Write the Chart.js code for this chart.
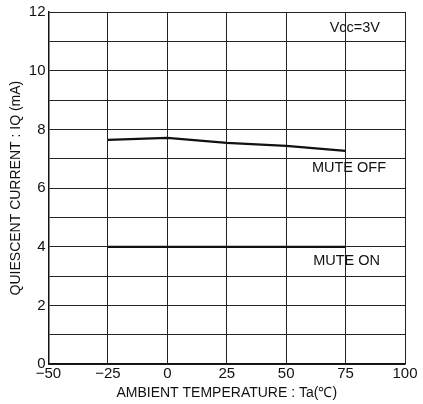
<!DOCTYPE html>
<html>
<head>
<meta charset="utf-8">
<script src="https://cdn.jsdelivr.net/npm/chart.js@4"></script>
<style>
  html, body { margin: 0; padding: 0; background: #fff; }
  #wrap { width: 423px; height: 404px; }
</style>
</head>
<body>
<div id="wrap"><canvas id="plot" width="423" height="404"></canvas></div>
<script>
// temperatures (deg C)
var temps = [-25, 0, 25, 50, 75];
// quiescent current, mA
var muteOff = [7.64, 7.71, 7.54, 7.44, 7.27];
var muteOn = [4.0, 4.0, 4.0, 4.0, 4.0];
var yTickLabels = [0, 2, 4, 6, 8, 10, 12];

function pts(ys) {
    return temps.map(function (t, i) { return { x: t, y: ys[i] }; });
}

// text notes written into the plot, placed by data coordinates
var notes = [
    { text: "Vcc=3V", x: 89.5, y: 11.45 },
    { text: "MUTE OFF", x: 92, y: 6.68 },
    { text: "MUTE ON", x: 89.5, y: 3.5 }
];

var notePlugin = {
    id: "notes",
    afterDatasetsDraw: function (chart) {
        var ctx = chart.ctx, xs = chart.scales.x, ys = chart.scales.y;
        ctx.save();
        ctx.font = "14.5px 'Liberation Sans', Arial, sans-serif";
        ctx.fillStyle = "#111";
        ctx.textAlign = "right";
        ctx.textBaseline = "middle";
        notes.forEach(function (n) {
            ctx.fillText(n.text, xs.getPixelForValue(n.x), ys.getPixelForValue(n.y));
        });
        ctx.restore();
    }
};

new Chart(document.getElementById("plot"), {
    type: "line",
    data: {
        datasets: [
            { label: "MUTE OFF", data: pts(muteOff), borderColor: "#111", borderWidth: 2.2, pointRadius: 0, fill: false, tension: 0 },
            { label: "MUTE ON", data: pts(muteOn), borderColor: "#111", borderWidth: 2.2, pointRadius: 0, fill: false, tension: 0 }
        ]
    },
    options: {
        responsive: false,
        animation: false,
        layout: { padding: { top: 2, right: 18, left: 8, bottom: 2 } },
        plugins: { legend: { display: false }, tooltip: { enabled: false } },
        scales: {
            x: {
                type: "linear",
                min: -50,
                max: 100,
                ticks: {
                    stepSize: 25,
                    color: "#111",
                    font: { size: 15, family: "'Liberation Sans', Arial, sans-serif" },
                    padding: 1,
                    maxRotation: 0,
                    callback: function (v) { return v < 0 ? "\u2212" + Math.abs(v) : String(v); }
                },
                grid: { color: "#222", lineWidth: 1, drawTicks: false },
                border: { color: "#111", width: 1.5 },
                title: {
                    display: true,
                    text: "AMBIENT TEMPERATURE : Ta(\u2103)",
                    color: "#111",
                    font: { size: 14, family: "'Liberation Sans', Arial, sans-serif" },
                    padding: { top: 1, bottom: 0 }
                }
            },
            y: {
                min: 0,
                max: 12,
                ticks: {
                    stepSize: 1,
                    color: "#111",
                    font: { size: 15, family: "'Liberation Sans', Arial, sans-serif" },
                    padding: 3,
                    callback: function (v) { return yTickLabels.indexOf(v) >= 0 ? String(v) : ""; }
                },
                grid: { color: "#222", lineWidth: 1, drawTicks: false },
                border: { color: "#111", width: 1.5 },
                title: {
                    display: true,
                    text: "QUIESCENT CURRENT : IQ (mA)",
                    color: "#111",
                    font: { size: 14, family: "'Liberation Sans', Arial, sans-serif" },
                    padding: { top: 0, bottom: 1 }
                }
            }
        }
    },
    plugins: [notePlugin]
});
</script>
</body>
</html>
